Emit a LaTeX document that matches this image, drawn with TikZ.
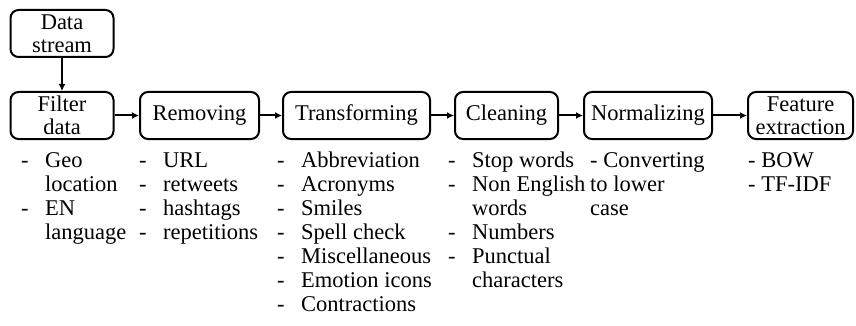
\documentclass[tikz,border=0pt]{standalone}
\usepackage{fontspec}
\setmainfont{Liberation Serif}
\usetikzlibrary{arrows.meta}
\tikzset{
  stagebox/.style={draw, line width=2pt, rounded corners=8pt, minimum height=47pt, inner sep=0pt, align=center, font=\fontsize{22.5}{23}\selectfont},
  listtext/.style={inner sep=0pt, anchor=base west, align=left, font=\fontsize{22.5}{24}\selectfont},
  flow/.style={line width=2pt, -{Latex[length=7pt, width=7pt]}}
}
\newcommand{\stage}[4]{
\node[stagebox, minimum width=#3] (#1) at (#2, 115.5) {#4};
}
\newcommand{\dashlist}[3]{
\node[listtext] (#1) at (#2, 167) {\begin{tabular}[t]{@{}p{24pt}@{}l@{}}#3\end{tabular}};
}

\begin{document}
\begin{tikzpicture}[x=1pt, y=-1pt]
\useasboundingbox (0, 0) rectangle (856, 326);

\node[stagebox, minimum width=103pt] (stream) at (62, 33.5) {Data\\stream};
\stage{filter}{62}{103pt}{Filter\\data}
\stage{removing}{199.5}{119pt}{Removing}
\stage{transforming}{356.5}{147pt}{Transforming}
\stage{cleaning}{506.5}{103pt}{Cleaning}
\stage{normalizing}{648}{128pt}{Normalizing}
\stage{feature}{800.5}{105pt}{Feature\\extraction}

\draw[flow] (stream) -- (filter);
\draw[flow] (filter) -- (removing);
\draw[flow] (removing) -- (transforming);
\draw[flow] (transforming) -- (cleaning);
\draw[flow] (cleaning) -- (normalizing);
\draw[flow] (normalizing) -- (feature);

\dashlist{filterlist}{21}{-& Geo\\ & location\\ -& EN\\ & language}
\dashlist{removinglist}{139}{-& URL\\ -& retweets\\ -& hashtags\\ -& repetitions}
\dashlist{transforminglist}{277}{-& Abbreviation\\ -& Acronyms\\ -& Smiles\\ -& Spell check\\ -& Miscellaneous\\ -& Emotion icons\\ -& Contractions}
\dashlist{cleaninglist}{448}{-& Stop words\\ -& Non English\\ & words\\ -& Numbers\\ -& Punctual\\ & characters}
\node[listtext] (normalizinglist) at (590, 167) {\begin{tabular}[t]{@{}l@{}}- Converting\\to lower\\case\end{tabular}};
\node[listtext] (featurelist) at (748, 167) {\begin{tabular}[t]{@{}l@{}}- BOW\\- TF-IDF\end{tabular}};
\end{tikzpicture}
\end{document}
